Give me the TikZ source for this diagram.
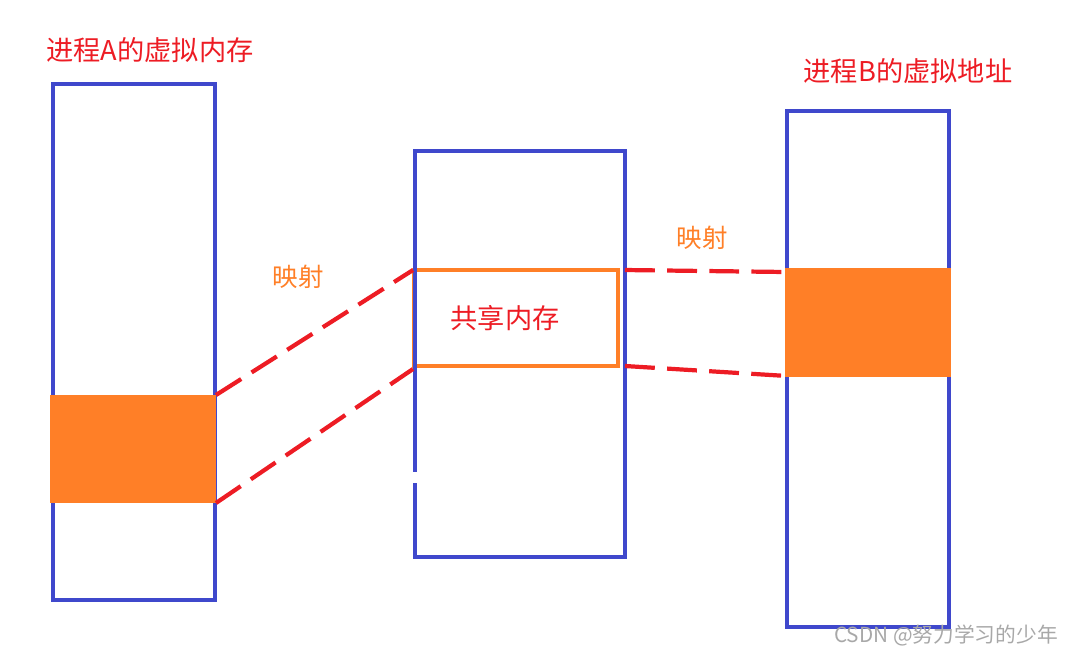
\documentclass[tikz,border=0pt]{standalone}
\usepackage{fontspec}
\newfontfamily\cjk{Noto Sans CJK SC}
\usetikzlibrary{positioning}
\usetikzlibrary{calc}
\definecolor{memblue}{HTML}{3F48CC}
\definecolor{memorange}{HTML}{FF7F27}
\definecolor{mapred}{HTML}{ED1C24}
\definecolor{markgray}{HTML}{A8A8A8}
\tikzset{
    membox/.style = {rectangle,draw=memblue,line width=2.6pt,inner sep=0pt,outer sep=0pt},
    memblock/.style = {rectangle,fill=memorange,inner sep=0pt,outer sep=0pt},
    shmbox/.style = {rectangle,draw=memorange,line width=2.2pt,inner sep=0pt,outer sep=0pt},
    maplink/.style = {draw=mapred,line width=2.4pt,dash pattern=on 17pt off 7pt},
    proctitle/.style = {text=mapred,font=\cjk\fontsize{15.5}{18}\selectfont},
    maplabel/.style = {text=memorange,font=\cjk\fontsize{14.5}{17}\selectfont},
    watermark/.style = {text=markgray,font=\cjk\fontsize{11.8}{14}\selectfont}}

\begin{document}
\begin{tikzpicture}[x=0.02cm,y=-0.02cm]
        \useasboundingbox (0,0) rectangle (1066,654);
        % the three memory areas
        \path (516,318) node[shmbox,minimum width=4.08cm,minimum height=1.92cm] (shm) {};
        \path (134,342) node[membox,minimum width=3.24cm,minimum height=10.32cm] (vma) {}
        (520,354) node[membox,minimum width=4.2cm,minimum height=8.12cm] (phys) {}
        (868,369) node[membox,minimum width=3.24cm,minimum height=10.32cm] (vmb) {};
        \fill[white] (409,472) rectangle (419,483);
        \path (133,449) node[memblock,minimum width=3.32cm,minimum height=2.16cm] (blka) {}
        (868,322.5) node[memblock,minimum width=3.32cm,minimum height=2.18cm] (blkb) {};
        % labels
        \path (150,50) node[proctitle] (ta) {进程A的虚拟内存}
        (908,71) node[proctitle] (tb) {进程B的虚拟地址}
        (505,318) node[proctitle] (tshm) {共享内存}
        (298,277) node[maplabel] (mapa) {映射}
        (702,238) node[maplabel] (mapb) {映射}
        (946,635) node[watermark] (wm) {CSDN @努力学习的少年};
        % mappings
        \draw[maplink] (blka.north east) -- ($(shm.north west)+(-1,0)$) (blka.south east) -- ($(shm.south west)+(-1,3)$);
        \draw[maplink] ($(shm.north east)+(7,0)$) -- ($(blkb.north west)+(2,4)$) ($(shm.south east)+(7,0)$) -- ($(blkb.south west)+(2,-1)$);
\end{tikzpicture}
\end{document}
